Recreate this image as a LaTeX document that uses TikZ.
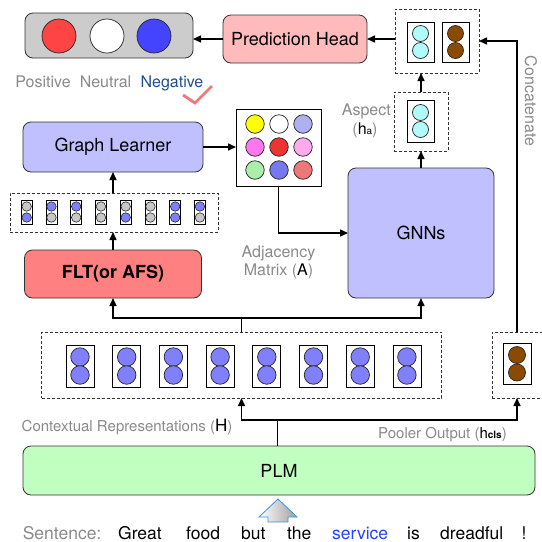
\documentclass[tikz,border=0pt]{standalone}
\usepackage{fontspec}
\setmainfont{TeX Gyre Heros}
\usetikzlibrary{arrows.meta,shapes.geometric}
\definecolor{labgray}{HTML}{8A8A8A}
\definecolor{negblue}{HTML}{1F4E8C}
\definecolor{servblue}{HTML}{2244FF}
\definecolor{outgray}{HTML}{CCCCCC}
\definecolor{cred}{HTML}{FF4444}
\definecolor{cblue}{HTML}{4444FF}
\definecolor{phpink}{HTML}{FFBBBB}
\definecolor{lav}{HTML}{C0C0FF}
\definecolor{fltred}{HTML}{FF8080}
\definecolor{plmgreen}{HTML}{C0FFC0}
\definecolor{cyanc}{HTML}{B0FAFA}
\definecolor{brownc}{HTML}{8B4A00}
\definecolor{bluec}{HTML}{8080FF}
\definecolor{grayc}{HTML}{C8C8C8}
\definecolor{checkc}{HTML}{F07878}
\definecolor{arrowblue}{HTML}{3399DD}
\definecolor{m1}{HTML}{FFFF00}
\definecolor{m2}{HTML}{FFFFFF}
\definecolor{m3}{HTML}{B0B0F0}
\definecolor{m4}{HTML}{FF77EE}
\definecolor{m5}{HTML}{EE3333}
\definecolor{m6}{HTML}{FFAAEE}
\definecolor{m7}{HTML}{AAEEAA}
\definecolor{m8}{HTML}{7777EE}
\definecolor{m9}{HTML}{EE7777}
\newcommand\lblf{\fontsize{16}{18}\selectfont}
\newcommand\boxf{\fontsize{18}{20}\selectfont}
\newcommand\smlf{\fontsize{15}{17}\selectfont}
\newcommand\sentf{\fontsize{17.5}{19}\selectfont}
\tikzset{
  conn/.style={line width=1.5pt,-{Triangle[length=8pt,width=7pt]}},
  plain/.style={line width=1.5pt},
  rbox/.style={draw=black!80,line width=0.8pt,rounded corners=8pt,inner sep=0pt,outer sep=0pt,font=\boxf},
  dbox/.style={draw=black!80,line width=0.8pt,dash pattern=on 3pt off 2pt,inner sep=0pt,outer sep=0pt},
  ibox/.style={draw=black,line width=0.8pt,fill=white,inner sep=0pt,outer sep=0pt},
  circ/.style={circle,draw=black!85,line width=0.7pt,inner sep=0pt,outer sep=0pt},
  lbl/.style={inner sep=0pt,text=labgray,font=\lblf},
}
\begin{document}
\begin{tikzpicture}[x=1pt,y=-1pt]
\useasboundingbox[fill=white] (0,0) rectangle (542,542);

% ---------- output box ----------
\node[rbox,fill=outgray,minimum width=168pt,minimum height=45pt] (out) at (109,35.5) {};
\node[circ,fill=cred,minimum size=34pt] (opos) at (59,36) {};
\node[circ,fill=white,minimum size=34pt] (oneu) at (107,36) {};
\node[circ,fill=cblue,minimum size=34pt] (oneg) at (154,36) {};
\node[lbl,anchor=base] (lpos) at (43,87) {Positive};
\node[lbl,anchor=base] (lneu) at (105.5,87) {Neutral};
\node[lbl,anchor=base,text=negblue] (lneg) at (172,87) {Negative};
\draw[checkc,line width=2.8pt] (183,95) -- (195,103) -- (212,86);

% ---------- prediction head ----------
\node[rbox,fill=phpink,minimum width=144pt,minimum height=48pt] (ph) at (295,39) {Prediction Head};

% ---------- concat box ----------
\node[dbox,minimum width=84pt,minimum height=64pt] (cat) at (437,41) {};
\node[ibox,minimum width=27pt,minimum height=40pt] (catA) at (420.5,42) {};
\node[circ,fill=cyanc,minimum size=16pt] (catA1) at (420.5,33.5) {};
\node[circ,fill=cyanc,minimum size=16pt] (catA2) at (420.5,50.5) {};
\node[ibox,minimum width=27pt,minimum height=40pt] (catB) at (455.5,42) {};
\node[circ,fill=brownc,minimum size=16pt] (catB1) at (455.5,33.5) {};
\node[circ,fill=brownc,minimum size=16pt] (catB2) at (455.5,50.5) {};

\draw[conn] (cat.west |- ph.east) -- (ph.east);
\draw[conn] (ph.west) -- (out.east |- ph.west);

% ---------- aspect ----------
\node[dbox,minimum width=54pt,minimum height=59pt] (asp) at (421,121.5) {};
\node[ibox,minimum width=27pt,minimum height=42pt] (aspI) at (420.5,121) {};
\node[circ,fill=cyanc,minimum size=16pt] (asp1) at (420.5,112.5) {};
\node[circ,fill=cyanc,minimum size=16pt] (asp2) at (420.5,129.5) {};
\node[lbl,anchor=base east] (laspect) at (391,115) {Aspect};
\node[lbl,anchor=base] (lha) at (365,134) {({\color{black}h\fontsize{10}{10}\selectfont a})};
\draw[conn] (asp.north) -- (asp.north |- cat.south);

% ---------- graph learner ----------
\node[rbox,fill=lav,minimum width=180pt,minimum height=50pt] (gl) at (113,147) {Graph Learner};

% ---------- matrix ----------
\node[ibox,minimum width=85pt,minimum height=77pt] (mat) at (278.5,147.5) {};
\foreach \c [count=\i from 0] in {m1,m2,m3,m4,m5,m6,m7,m8,m9}{
  \pgfmathtruncatemacro{\col}{mod(\i,3)}
  \pgfmathtruncatemacro{\row}{int(\i/3)}
  \node[circ,fill=\c,minimum size=18.5pt] (mc\i) at ({255+24*\col},{124+23*\row}) {};
}
\draw[conn] (gl.east) -- (mat.west |- gl.east);

% ---------- GNNs ----------
\node[rbox,fill=lav,minimum width=146pt,minimum height=130pt] (gnn) at (421,233) {GNNs};
\draw[conn] (mat.south) |- (gnn.west);
\draw[conn] (gnn.north) -- (asp.south);
\node[lbl,align=center,anchor=base] (ladj) at (278.5,257) {Adjacency};
\node[lbl,anchor=base] (lmat) at (278.5,275) {Matrix ({\color{black}A})};

% ---------- feature box ----------
\node[dbox,minimum width=208pt,minimum height=39pt] (feat) at (114,212.5) {};
\foreach \t/\b [count=\i from 0] in {grayc/bluec,bluec/grayc,bluec/grayc,grayc/grayc,grayc/bluec,grayc/grayc,bluec/bluec,bluec/grayc}{
  \node[ibox,minimum width=11pt,minimum height=24pt] (fb\i) at ({26.7+24.75*\i},212) {};
  \node[circ,fill=\t,minimum size=9.5pt,line width=0.6pt] (ft\i) at ({26.7+24.75*\i},206.5) {};
  \node[circ,fill=\b,minimum size=9.5pt,line width=0.6pt] (fbt\i) at ({26.7+24.75*\i},217.5) {};
}
\draw[conn] (feat.north -| gl.south) -- (gl.south);

% ---------- FLT ----------
\node[rbox,fill=fltred,minimum width=177pt,minimum height=48pt,font=\boxf\bfseries] (flt) at (113,274) {FLT(or AFS)};
\draw[conn] (flt.north) -- (flt.north |- feat.south);

% ---------- contextual ----------
\node[dbox,minimum width=400pt,minimum height=66pt] (ctx) at (241.5,365) {};
\foreach \i in {0,...,7}{
  \node[ibox,minimum width=28pt,minimum height=42pt] (cb\i) at ({80+46.7*\i},366) {};
  \node[circ,fill=bluec,minimum size=18.5pt] (cu\i) at ({80+46.7*\i},357) {};
  \node[circ,fill=bluec,minimum size=18.5pt] (cd\i) at ({80+46.7*\i},375) {};
}
\coordinate (jt) at (241.5,318);
\draw[plain] (ctx.north) -- (jt);
\draw[conn] (jt) -| (flt.south);
\draw[conn] (jt) -| (gnn.south);

% ---------- pooler ----------
\node[dbox,minimum width=50pt,minimum height=66pt] (pool) at (517,365) {};
\node[ibox,minimum width=28pt,minimum height=41pt] (pI) at (517,363.5) {};
\node[circ,fill=brownc,minimum size=17pt] (p1) at (517,355) {};
\node[circ,fill=brownc,minimum size=17pt] (p2) at (517,372.5) {};
\draw[conn] (pool.north) -- (pool.north |- cat.east) -- (cat.east);
\node[lbl,rotate=-90] (lcat) at (531,101) {Concatenate};

% ---------- PLM ----------
\node[rbox,fill=plmgreen,minimum width=512pt,minimum height=49pt] (plm) at (279,470.5) {PLM};
\coordinate (jb) at (277.5,420);
\draw[plain] (plm.north -| jb) -- (jb);
\draw[conn] (jb) -| (ctx.south);
\draw[conn] (jb) -| (pool.south);
\node[lbl,font=\smlf,anchor=base west] (lctx) at (21.5,431) {Contextual Representations ({\color{black}\fontsize{17}{17}\selectfont H})};
\node[lbl,font=\smlf,anchor=base west] (lpool) at (378,438) {Pooler Output ({\color{black}h\fontsize{10}{10}\selectfont\bfseries cls})};

% ---------- input arrow ----------
\shade[left color=white,right color=gray!75,draw=arrowblue,line width=0.8pt]
  (278,499) -- (297,517) -- (288,517) -- (288,522) -- (268,522) -- (268,517) -- (259,517) -- cycle;

% ---------- sentence ----------
\node[lbl,font=\sentf,anchor=base west] (ws) at (22.6,539.5) {Sentence:};
\node[inner sep=0pt,font=\sentf,anchor=base west] (w1) at (118,539.5) {Great};
\node[inner sep=0pt,font=\sentf,anchor=base west] (w2) at (186,539.5) {food};
\node[inner sep=0pt,font=\sentf,anchor=base west] (w3) at (241,539.5) {but};
\node[inner sep=0pt,font=\sentf,anchor=base west] (w4) at (287,539.5) {the};
\node[inner sep=0pt,font=\sentf,anchor=base west,text=servblue] (w5) at (332,539.5) {service};
\node[inner sep=0pt,font=\sentf,anchor=base west] (w6) at (407,539.5) {is};
\node[inner sep=0pt,font=\sentf,anchor=base west] (w7) at (440,539.5) {dreadful};
\node[inner sep=0pt,font=\sentf,anchor=base] (w8) at (524,539.5) {!};
\end{tikzpicture}
\end{document}
